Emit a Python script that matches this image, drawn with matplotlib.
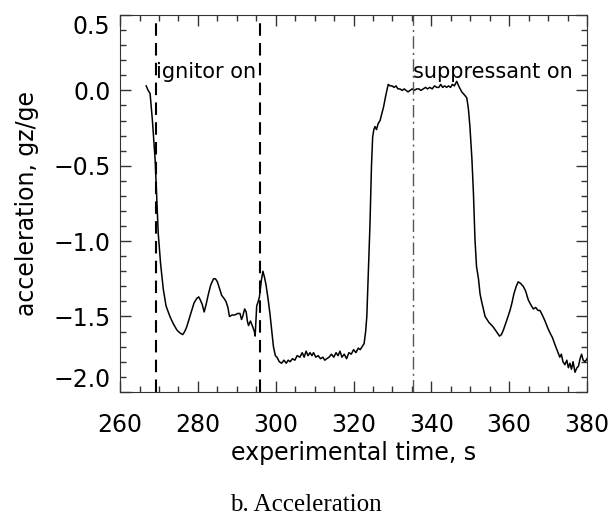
import matplotlib.pyplot as plt
from matplotlib.ticker import MultipleLocator

# experimental time (s) and vertical acceleration gz/ge
time_s = [
    266.7, 267.2, 267.7, 268.3, 269.0, 269.8, 270.4, 271.1, 271.8, 272.8,
    273.7, 274.6, 275.4, 276.1, 276.6, 277.1, 277.8, 278.4, 279.0, 279.7,
    280.2, 280.6, 281.1, 281.6, 282.1, 282.7, 283.3, 284.0, 284.5, 285.0,
    285.6, 286.1, 286.7, 287.2, 287.7, 288.1, 288.8, 289.5, 290.2, 290.8,
    291.2, 291.5, 292.0, 292.4, 292.7, 293.0, 293.5, 294.1, 294.5, 294.7,
    295.1, 295.5, 295.8, 296.3, 296.7, 297.1, 297.5, 298.0, 298.5, 299.0,
    299.4, 299.9, 300.3, 300.9, 301.5, 302.1, 302.7, 303.2, 303.7, 304.3,
    304.9, 305.5, 306.2, 306.8, 307.3, 307.8, 308.3, 308.8, 309.3, 309.7,
    310.3, 310.9, 311.5, 312.1, 312.6, 313.1, 313.7, 314.3, 314.9, 315.5,
    316.0, 316.5, 317.0, 317.6, 318.2, 318.8, 319.4, 320.0, 320.6, 321.2,
    321.7, 322.2, 322.7, 323.1, 323.4, 323.8, 324.2, 324.6, 324.9, 325.2,
    325.5, 325.9, 326.3, 326.8, 327.3, 327.7, 328.3, 328.9, 329.4, 329.9,
    330.4, 330.9, 331.4, 331.9, 332.5, 333.0, 333.5, 334.0, 334.5, 335.1,
    335.6, 336.2, 336.8, 337.3, 337.9, 338.5, 339.0, 339.6, 340.2, 340.8,
    341.4, 341.9, 342.4, 342.9, 343.4, 343.9, 344.4, 344.9, 345.4, 345.9,
    346.5, 347.0, 347.4, 347.8, 348.5, 349.1, 349.5, 349.9, 350.4, 350.8,
    351.2, 351.6, 352.1, 352.5, 352.9, 353.8, 354.8, 355.9, 356.7, 357.5,
    358.0, 358.5, 359.3, 360.2, 360.7, 361.2, 361.8, 362.3, 362.9, 363.6,
    364.2, 364.9, 365.5, 366.2, 366.8, 367.4, 367.9, 368.5, 369.2, 369.8,
    370.5, 371.1, 371.8, 372.4, 373.0, 373.4, 373.8, 374.3, 374.8, 375.2,
    375.6, 376.0, 376.4, 376.9, 377.4, 377.8, 378.2, 378.6, 379.0, 379.5,
    380.0,
]
accel_g = [
    0.03, 0.00, -0.02, -0.20, -0.46, -0.95, -1.15, -1.32, -1.43, -1.50,
    -1.55, -1.59, -1.61, -1.62, -1.60, -1.57, -1.51, -1.46, -1.41, -1.38,
    -1.37, -1.39, -1.42, -1.47, -1.42, -1.35, -1.29, -1.25, -1.25, -1.27,
    -1.32, -1.36, -1.38, -1.40, -1.44, -1.50, -1.49, -1.49, -1.48, -1.48,
    -1.52, -1.50, -1.45, -1.47, -1.53, -1.56, -1.53, -1.57, -1.60, -1.63,
    -1.43, -1.40, -1.37, -1.26, -1.20, -1.24, -1.29, -1.38, -1.48, -1.60,
    -1.70, -1.76, -1.77, -1.80, -1.81, -1.79, -1.81, -1.79, -1.80, -1.78,
    -1.79, -1.76, -1.77, -1.74, -1.77, -1.73, -1.76, -1.74, -1.76, -1.74,
    -1.77, -1.76, -1.78, -1.77, -1.79, -1.78, -1.77, -1.75, -1.77, -1.74,
    -1.76, -1.73, -1.77, -1.75, -1.78, -1.74, -1.75, -1.72, -1.74, -1.71,
    -1.72, -1.70, -1.68, -1.60, -1.50, -1.20, -0.90, -0.50, -0.31, -0.26,
    -0.24, -0.26, -0.22, -0.20, -0.15, -0.11, -0.03, 0.04, 0.03, 0.03,
    0.02, 0.03, 0.01, 0.01, 0.00, 0.01, 0.00, -0.01, 0.00, 0.01,
    0.00, 0.01, 0.01, 0.00, 0.01, 0.02, 0.01, 0.02, 0.01, 0.03,
    0.02, 0.02, 0.04, 0.02, 0.03, 0.02, 0.03, 0.02, 0.04, 0.03,
    0.06, 0.03, 0.01, -0.01, -0.03, -0.05, -0.12, -0.24, -0.45, -0.68,
    -0.99, -1.17, -1.25, -1.35, -1.40, -1.50, -1.54, -1.57, -1.60, -1.63,
    -1.62, -1.59, -1.53, -1.46, -1.41, -1.35, -1.30, -1.27, -1.28, -1.30,
    -1.33, -1.39, -1.42, -1.45, -1.44, -1.46, -1.46, -1.49, -1.53, -1.57,
    -1.61, -1.64, -1.69, -1.73, -1.77, -1.75, -1.80, -1.82, -1.79, -1.84,
    -1.81, -1.85, -1.80, -1.87, -1.84, -1.83, -1.78, -1.75, -1.79, -1.80,
    -1.78,
]

ignitor_times = [269.2, 296.0]
suppressant_time = 335.2

x_ticks = [260, 280, 300, 320, 340, 360, 380]
y_ticks = [-2.0, -1.5, -1.0, -0.5, 0.0, 0.5]

fig = plt.figure(figsize=(6.16, 5.19), dpi=100)
ax = fig.add_axes([0.195, 0.245, 0.758, 0.726])

ax.plot(time_s, accel_g, color="black", lw=1.1)

for t in ignitor_times:
    ax.axvline(t, color="black", lw=1.5, dashes=(6, 3.5))
ax.axvline(suppressant_time, color="#555555", lw=1.0, dashes=(9, 3, 1.5, 3))

ax.text(ignitor_times[0], 0.12, "ignitor on", fontsize=15, va="center", ha="left")
ax.text(suppressant_time, 0.12, "suppressant on", fontsize=15, va="center", ha="left")

ax.set_xlim(260, 380)
ax.set_ylim(-2.0, 0.5)
ax.set_xticks(x_ticks)
ax.set_yticks(y_ticks)
ax.xaxis.set_minor_locator(MultipleLocator(5))
ax.yaxis.set_minor_locator(MultipleLocator(0.1))
ax.tick_params(which="both", direction="in", top=True, right=True,
               color="#333333", width=1)
ax.tick_params(which="major", length=8, labelsize=17)
ax.tick_params(which="minor", length=4)
ax.tick_params(axis="x", which="major", pad=15)
ax.tick_params(axis="y", which="major", pad=7)
for sp in ax.spines.values():
    sp.set_color("#333333")

ax.set_xlabel("experimental time, s", fontsize=17, labelpad=3)
ax.set_ylabel("acceleration, gz/ge", fontsize=17, labelpad=10)

# end labels sit inside the axis range, as in the original
yt = ax.yaxis.get_major_ticks()
yt[0].label1.set_va("bottom")
yt[-1].label1.set_va("top")

fig.text(0.497, 0.027, "b. Acceleration", fontsize=18, ha="center",
         va="center", family="Liberation Serif")

fig.savefig("out.png", dpi=100)
